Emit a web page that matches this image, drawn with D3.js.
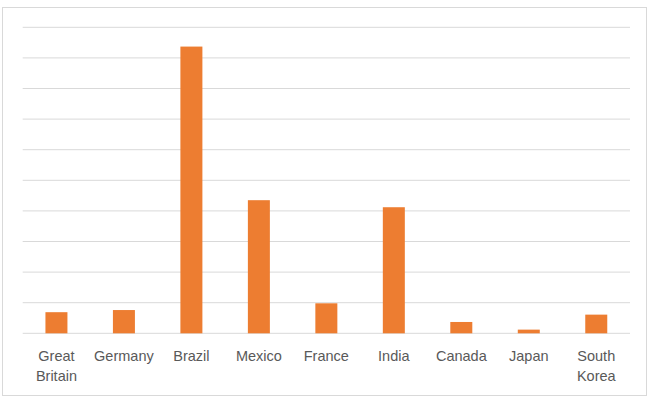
<!DOCTYPE html>
<html>
<head>
<meta charset="utf-8">
<script src="https://cdn.jsdelivr.net/npm/d3@7"></script>
<style>
  html, body { margin: 0; padding: 0; background: #fff; }
  svg { display: block; }
</style>
</head>
<body>
<svg id="chart" width="649" height="409"></svg>
<script>
const categories = ["Great Britain", "Germany", "Brazil", "Mexico", "France", "India", "Canada", "Japan", "South Korea"];
const values = [0.69, 0.76, 9.37, 4.35, 0.98, 4.12, 0.37, 0.12, 0.61];
const yTicks = [0, 1, 2, 3, 4, 5, 6, 7, 8, 9, 10];
const labelLines = [["Great", "Britain"], ["Germany"], ["Brazil"], ["Mexico"], ["France"], ["India"], ["Canada"], ["Japan"], ["South", "Korea"]];

(function () {
const svg = d3.select("#chart");

svg.append("rect")
  .attr("x", 2.5).attr("y", 7.5)
  .attr("width", 644).attr("height", 388)
  .attr("fill", "#fff")
  .attr("stroke", "#D9D9D9").attr("stroke-width", 1);

const pLeft = 22.7, pRight = 630, pTop = 27.3, pBottom = 333.3;

const x = d3.scaleBand().domain(categories).range([pLeft, pRight]).paddingInner(0.674).paddingOuter(0.337);
const y = d3.scaleLinear().domain([0, 10]).range([pBottom, pTop]);

svg.append("g").selectAll("line")
  .data(yTicks)
  .join("line")
  .attr("x1", pLeft).attr("x2", pRight)
  .attr("y1", d => y(d)).attr("y2", d => y(d))
  .attr("stroke", "#D9D9D9").attr("stroke-width", 1);

svg.append("g").selectAll("rect")
  .data(categories)
  .join("rect")
  .attr("x", d => x(d))
  .attr("width", x.bandwidth())
  .attr("y", (d, i) => y(values[i]))
  .attr("height", (d, i) => y(0) - y(values[i]))
  .attr("fill", "#ED7D31");

const lbl = svg.append("g");
categories.forEach((c, i) => {
  const cx = x(c) + x.bandwidth() / 2;
  const t = lbl.append("text")
    .attr("x", cx).attr("y", 360.5)
    .attr("text-anchor", "middle")
    .attr("font-family", "'Liberation Sans', Arial, sans-serif")
    .attr("font-size", "14.5px")
    .attr("fill", "#595959");
  labelLines[i].forEach((ln, j) => {
    t.append("tspan").attr("x", cx).attr("dy", j === 0 ? 0 : 20).text(ln);
  });
});
})();
</script>
</body>
</html>
